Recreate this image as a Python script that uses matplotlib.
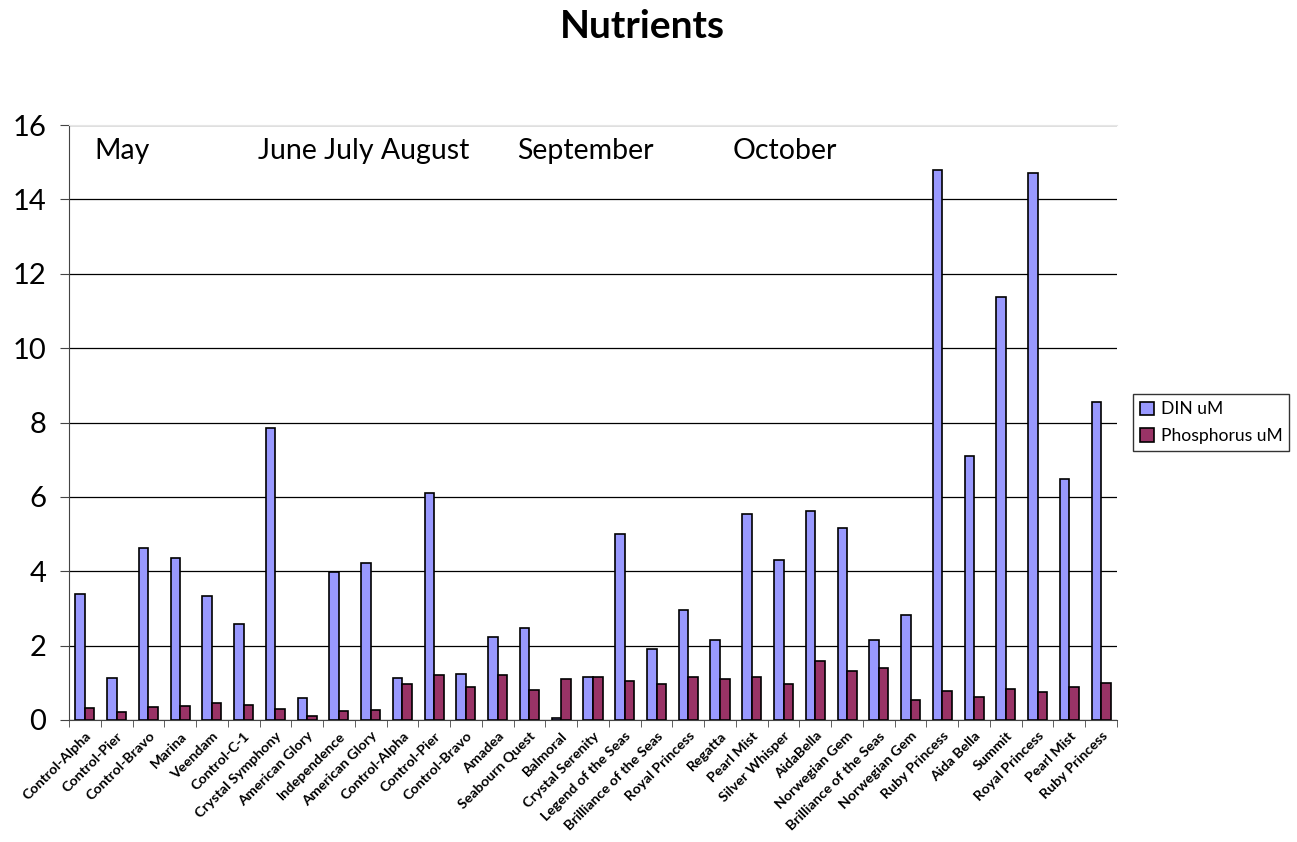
import numpy as np
import matplotlib
matplotlib.use("Agg")
import matplotlib.pyplot as plt

plt.rcParams['font.family'] = ['Lato', 'DejaVu Sans']

sites = ['Control-Alpha', 'Control-Pier', 'Control-Bravo', 'Marina', 'Veendam',
         'Control-C-1', 'Crystal Symphony', 'American Glory', 'Independence',
         'American Glory', 'Control-Alpha', 'Control-Pier', 'Control-Bravo',
         'Amadea', 'Seabourn Quest', 'Balmoral', 'Crystal Serenity',
         'Legend of the Seas', 'Brilliance of the Seas', 'Royal Princess',
         'Regatta', 'Pearl Mist', 'Silver Whisper', 'AidaBella', 'Norwegian Gem',
         'Brilliance of the Seas', 'Norwegian Gem', 'Ruby Princess', 'Aida Bella',
         'Summit', 'Royal Princess', 'Pearl Mist', 'Ruby Princess']

din = [3.39, 1.12, 4.63, 4.36, 3.33, 2.57, 7.86, 0.60, 3.98, 4.21, 1.14,
       6.10, 1.25, 2.23, 2.47, 0.05, 1.15, 4.99, 1.91, 2.97, 2.14, 5.53,
       4.31, 5.61, 5.15, 2.16, 2.82, 14.80, 7.09, 11.37, 14.71, 6.49, 8.55]

phos = [0.32, 0.21, 0.34, 0.37, 0.45, 0.39, 0.29, 0.10, 0.23, 0.28, 0.96,
        1.22, 0.89, 1.20, 0.80, 1.09, 1.15, 1.04, 0.96, 1.15, 1.09, 1.15,
        0.96, 1.59, 1.33, 1.41, 0.55, 0.78, 0.63, 0.83, 0.76, 0.89, 1.00]

months = ['May', 'June July August', 'September', 'October']
month_x = [0.31, 5.44, 13.6, 20.4]

x = np.arange(len(sites))
w = 0.30

fig = plt.figure(figsize=(12.97, 8.42), dpi=100)
ax = fig.add_axes([0.0532, 0.1449, 0.808, 0.7066])

ax.bar(x - w / 2, din, w, color='#9999FF', edgecolor='black', linewidth=1.2,
       label='DIN uM', zorder=3)
ax.bar(x + w / 2, phos, w, color='#993366', edgecolor='black', linewidth=1.2,
       label='Phosphorus uM', zorder=3)

ax.set_xlim(-0.5, len(sites) - 0.5)
ax.set_ylim(0, 16)
ax.set_yticks(range(0, 17, 2))
ax.yaxis.grid(True, color='black', linewidth=0.9, zorder=0)
ax.tick_params(axis='y', labelsize=21, length=6.5, color='#444444', pad=10)

ax.set_xticks(x)
ax.set_xticklabels(sites, rotation=45, ha='right', rotation_mode='anchor',
                   fontsize=10.3, fontweight='bold')
ax.tick_params(axis='x', which='major', length=0, pad=7)
ax.set_xticks(np.arange(-0.5, len(sites), 1), minor=True)
ax.tick_params(axis='x', which='minor', length=5, color='#444444')

ax.spines['right'].set_visible(False)
ax.spines['top'].set_color('#e6e6e6')
ax.spines['left'].set_color('#444444')
ax.spines['bottom'].set_color('#444444')

for m, mx in zip(months, month_x):
    ax.text(mx, 15.3, m, fontsize=20.5, va='center', ha='left')

fig.text(0.495, 0.968, 'Nutrients', fontsize=28, fontweight='bold',
         ha='center', va='center')

ax.legend(loc='center left', bbox_to_anchor=(0.8665, 0.498),
          bbox_transform=fig.transFigure, fontsize=12.6, frameon=True,
          fancybox=False, edgecolor='black', handlelength=0.8,
          handleheight=0.8, handletextpad=0.4, borderpad=0.4,
          labelspacing=0.6)

fig.savefig('out.png', dpi=100)
